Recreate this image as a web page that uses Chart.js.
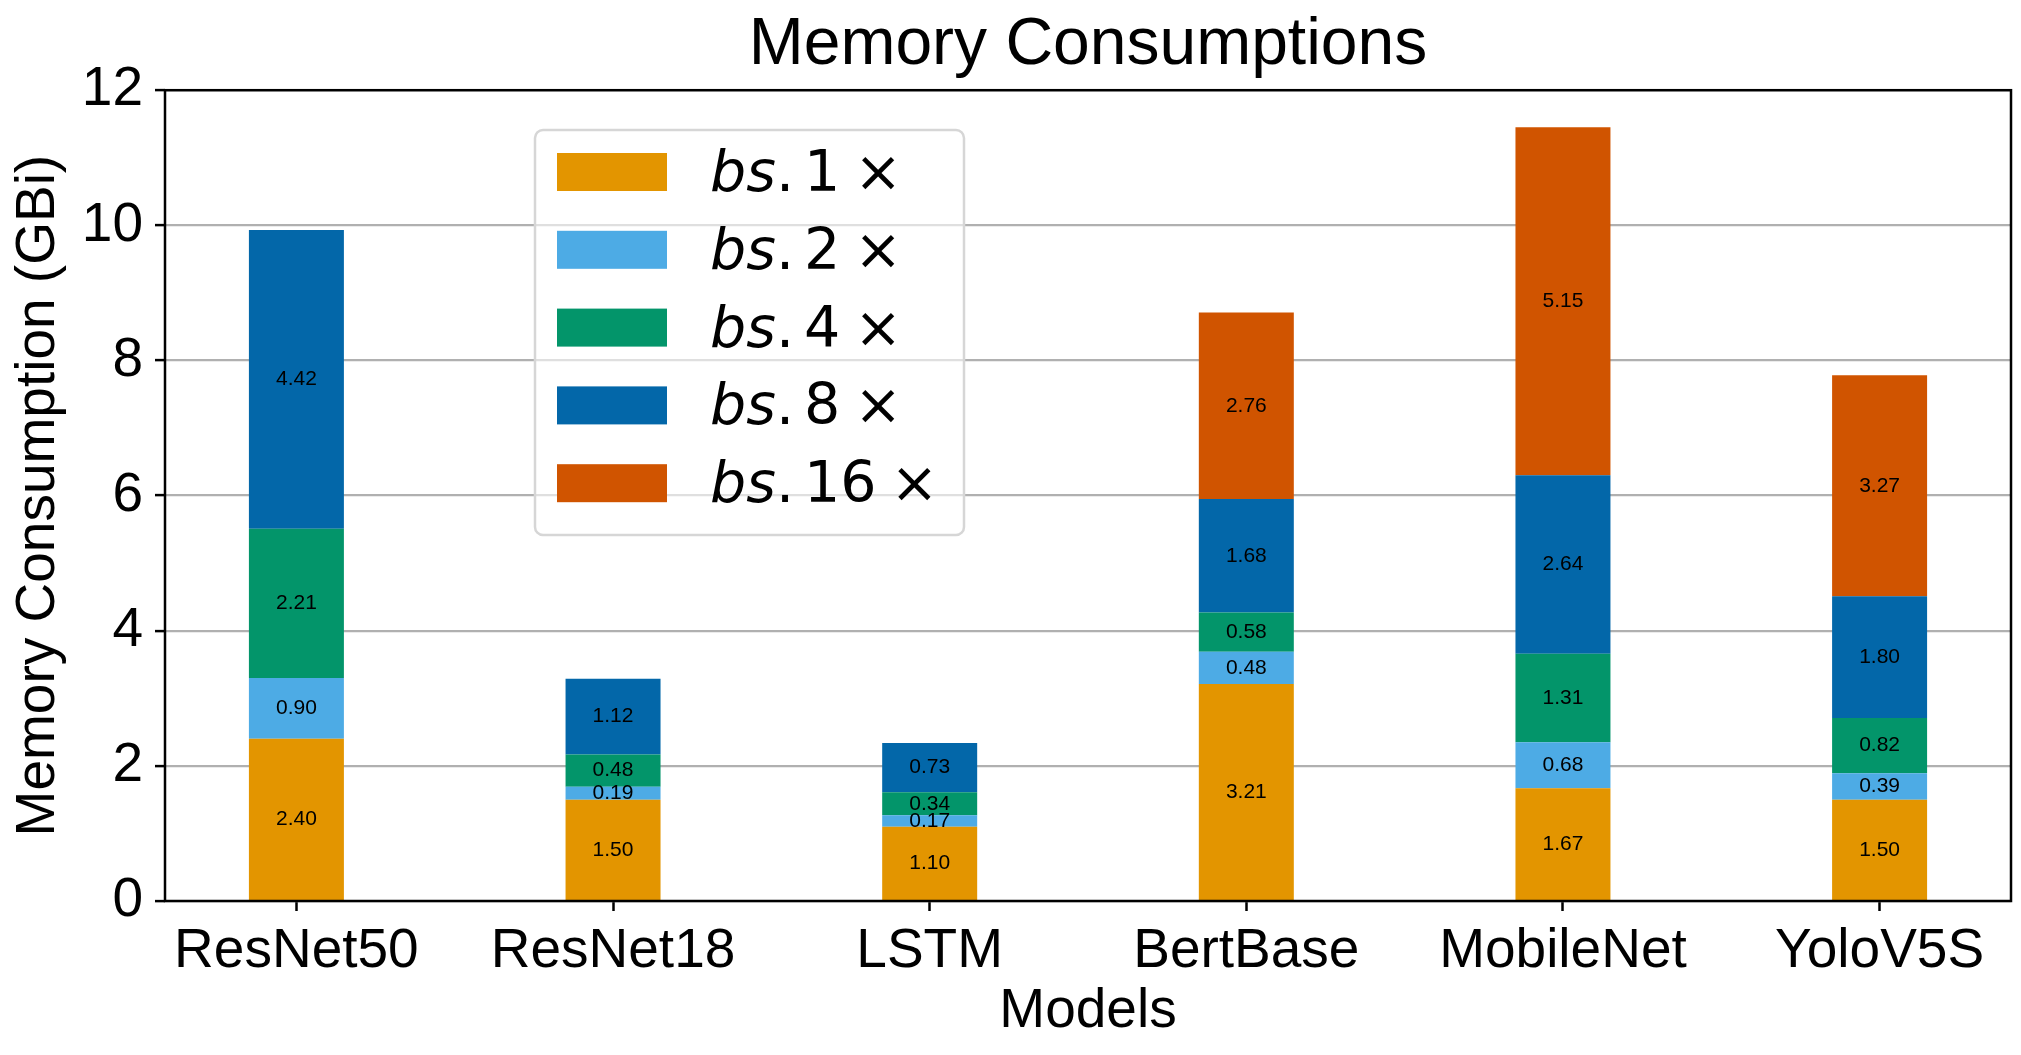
<!DOCTYPE html>
<html>
<head>
<meta charset="utf-8">
<script src="https://cdn.jsdelivr.net/npm/chart.js@4.4.0/dist/chart.umd.min.js"></script>
<style>
  html, body { margin: 0; padding: 0; background: #fff; }
  #wrap { width: 2021px; height: 1055px; }
</style>
</head>
<body>
<div id="wrap"><canvas id="memChart" width="2021" height="1055"></canvas></div>
<script>
const models = ['ResNet50', 'ResNet18', 'LSTM', 'BertBase', 'MobileNet', 'YoloV5S'];
const batchLabels = ['1', '2', '4', '8', '16'];
const bs1  = [2.40, 1.50, 1.10, 3.21, 1.67, 1.50];
const bs2  = [0.90, 0.19, 0.17, 0.48, 0.68, 0.39];
const bs4  = [2.21, 0.48, 0.34, 0.58, 1.31, 0.82];
const bs8  = [4.42, 1.12, 0.73, 1.68, 2.64, 1.80];
const bs16 = [null, null, null, 2.76, 5.15, 3.27];
const yTicks = [0, 2, 4, 6, 8, 10, 12];
const colors = ['#E39500', '#4DABE5', '#03956A', '#0367A9', '#D05400'];

const FONT = '"Liberation Sans", Arial, sans-serif';
Chart.defaults.font.family = FONT;
Chart.defaults.color = '#000';

const series = [bs1, bs2, bs4, bs8, bs16];

// value labels, frame and the in-axes legend
const extras = {
  id: 'extras',
  afterDraw(chart) {
    const ctx = chart.ctx;
    const a = chart.chartArea;
    ctx.save();
    ctx.font = '21px ' + FONT;
    ctx.fillStyle = '#000';
    ctx.textAlign = 'center';
    ctx.textBaseline = 'middle';
    chart.data.datasets.forEach((ds, di) => {
      chart.getDatasetMeta(di).data.forEach((bar, i) => {
        const v = ds.data[i].y;
        if (v == null) return;
        ctx.fillText(v.toFixed(2), bar.x, (bar.y + bar.base) / 2);
      });
    });

    ctx.strokeStyle = '#000';
    ctx.lineWidth = 2.5;
    ctx.strokeRect(a.left, a.top, a.right - a.left, a.bottom - a.top);

    // legend
    const lx = 535, ly = 130, lw = 429, lh = 405;
    ctx.beginPath();
    ctx.roundRect(lx, ly, lw, lh, 8);
    ctx.fillStyle = 'rgba(255,255,255,0.6)';
    ctx.fill();
    ctx.strokeStyle = '#d6d6d6';
    ctx.lineWidth = 2.5;
    ctx.stroke();
    ctx.textAlign = 'left';
    ctx.textBaseline = 'alphabetic';
    chart.data.datasets.forEach((ds, di) => {
      const top = 153 + di * 77.8;
      ctx.fillStyle = ds.backgroundColor;
      ctx.fillRect(lx + 22, top, 110, 38);
      const base = top + 38;
      const tx = lx + 175;
      ctx.fillStyle = '#000';
      ctx.font = 'italic 57px "DejaVu Sans"';
      ctx.fillText('bs', tx, base);
      let x = tx + ctx.measureText('bs').width;
      ctx.font = '57px "DejaVu Sans"';
      ctx.fillText('.', x, base);
      x = tx + 94;
      ctx.fillText(batchLabels[di], x, base);
      x += ctx.measureText(batchLabels[di]).width + 14;
      ctx.fillText('\u00d7', x, base);
    });
    ctx.restore();
  }
};

new Chart(document.getElementById('memChart'), {
  type: 'bar',
  data: {
    datasets: series.map((vals, k) => ({
      label: 'bs. ' + batchLabels[k] + ' \u00d7',
      data: vals.map((v, i) => ({ x: i, y: v })),
      backgroundColor: colors[k],
      borderWidth: 0,
      barPercentage: 0.3,
      categoryPercentage: 1
    }))
  },
  options: {
    responsive: false,
    animation: false,
    devicePixelRatio: 1,
    layout: { padding: { left: 0, right: 10, top: 0, bottom: 0 } },
    plugins: {
      legend: { display: false },
      tooltip: { enabled: false },
      title: {
        display: true, text: 'Memory Consumptions', color: '#000', fullSize: false,
        font: { size: 66, weight: 'normal' },
        padding: { top: 6, bottom: 5 }
      }
    },
    scales: {
      x: {
        type: 'linear', stacked: true, min: -0.415, max: 5.415, offset: false,
        afterBuildTicks: s => { s.ticks = models.map((m, i) => ({ value: i })); },
        afterFit: s => { s.height = 154; },
        ticks: { callback: v => models[v], autoSkip: false, maxRotation: 0, font: { size: 55 }, padding: 8 },
        grid: { offset: false, drawOnChartArea: false, drawTicks: true, tickLength: 10, tickColor: '#000', tickWidth: 2.5 },
        border: { display: false },
        title: { display: true, text: 'Models', font: { size: 55 }, padding: { top: 0, bottom: 10 } }
      },
      y: {
        stacked: true, min: 0, max: 12, z: 1,
        afterBuildTicks: s => { s.ticks = yTicks.map(v => ({ value: v })); },
        afterFit: s => { s.width = 165; },
        ticks: { font: { size: 55 }, padding: 12 },
        grid: { color: '#b0b0b0', lineWidth: 2.2, tickLength: 10, tickColor: '#000', tickWidth: 2.5 },
        border: { display: false },
        title: { display: true, text: 'Memory Consumption (GBi)', font: { size: 55 }, padding: { top: 6, bottom: 0 } }
      }
    }
  },
  plugins: [extras]
});
</script>
</body>
</html>
